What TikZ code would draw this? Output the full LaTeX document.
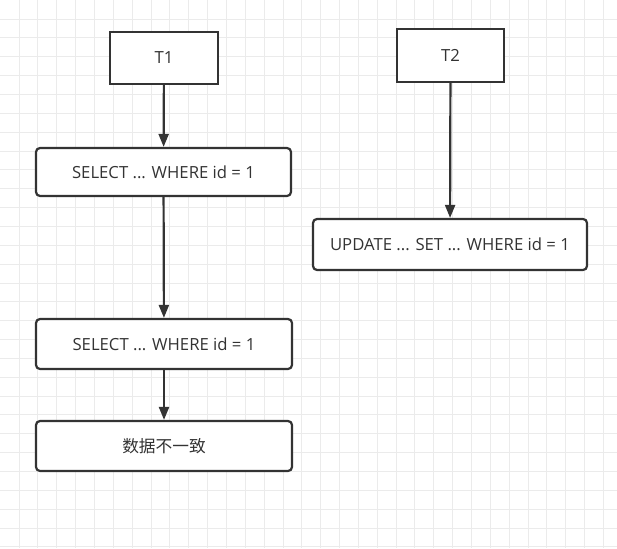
\documentclass[tikz,border=0pt]{standalone}
\usepackage{fontspec}
\setmainfont{Open Sans}
\newfontfamily\cjk{Noto Sans CJK SC}
\usetikzlibrary{arrows.meta}
\definecolor{ink}{HTML}{333333}
\definecolor{gridc}{HTML}{EBEBEB}
\tikzset{
  box/.style={draw=ink, line width=2.2pt, fill=white, text=ink, font=\fontsize{16.7}{20}\selectfont, inner sep=0pt},
  sharpbox/.style={box},
  roundbox/.style={box, rounded corners=4pt},
  conn/.style={draw=ink, line width=2.2pt, -{Triangle[length=13pt,width=10pt]}}
}
\begin{document}
\begin{tikzpicture}[x=1pt,y=-1pt]
\useasboundingbox (0,0) rectangle (617,548);
\fill[white] (0,0) rectangle (617,548);
\foreach \i in {0,...,32} {
  \draw[gridc, line width=0.8pt] ({19+\i*18.85},0) -- ({19+\i*18.85},548);
}
\foreach \i in {0,...,28} {
  \draw[gridc, line width=0.8pt] (0,{19+\i*18.85}) -- (617,{19+\i*18.85});
}
\node[sharpbox, minimum width=108pt, minimum height=52pt] (t1) at (164,58) {T1};
\node[roundbox, minimum width=255pt, minimum height=48pt] (s1) at (163.5,172) {SELECT ... WHERE id = 1};
\node[roundbox, minimum width=256pt, minimum height=50pt] (s2) at (164,344) {SELECT ... WHERE id = 1};
\node[roundbox, minimum width=256pt, minimum height=50pt] (r) at (164,446) {\cjk 数据不一致};
\node[sharpbox, minimum width=107pt, minimum height=53pt] (t2) at (450.5,55.5) {T2};
\node[roundbox, minimum width=274pt, minimum height=51pt] (u) at (450,244.5) {UPDATE ... SET ... WHERE id = 1};
\draw[conn] (t1) -- (s1);
\draw[conn] (s1) -- (s2);
\draw[conn] (s2) -- (r);
\draw[conn] (t2) -- (u);
\end{tikzpicture}
\end{document}
